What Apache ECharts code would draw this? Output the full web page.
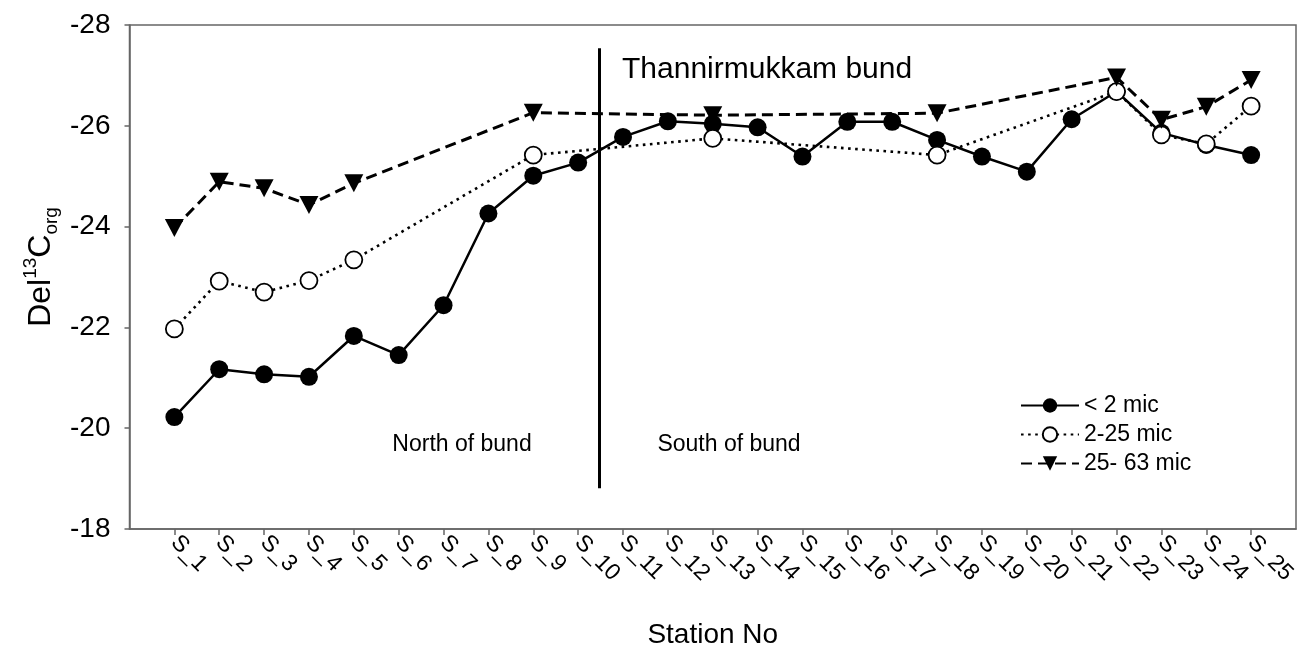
<!DOCTYPE html>
<html>
<head>
<meta charset="utf-8">
<script src="https://cdn.jsdelivr.net/npm/echarts@6/dist/echarts.min.js"></script>
<style>
html,body{margin:0;padding:0;background:#fff;}
#chart{width:1301px;height:647px;}
</style>
</head>
<body>
<div id="chart"></div>
<script>
// ---- data ----
const stations = ['S_1','S_2','S_3','S_4','S_5','S_6','S_7','S_8','S_9','S_10','S_11','S_12','S_13','S_14','S_15','S_16','S_17','S_18','S_19','S_20','S_21','S_22','S_23','S_24','S_25'];
const fine = [-20.22,-21.17,-21.07,-21.02,-21.83,-21.45,-22.44,-24.26,-25.01,-25.27,-25.78,-26.09,-26.04,-25.97,-25.39,-26.08,-26.08,-25.72,-25.39,-25.09,-26.13,-26.68,-25.86,-25.62,-25.42];
const medium = [-21.97,-22.92,-22.70,-22.93,-23.34,null,null,null,-25.42,null,null,null,-25.75,null,null,null,null,-25.42,null,null,null,-26.68,-25.82,-25.64,-26.39];
const coarse = [-23.97,-24.89,-24.76,-24.43,-24.86,null,null,null,-26.26,null,null,null,-26.21,null,null,null,null,-26.25,null,null,null,-26.96,-26.12,-26.38,-26.91];
const seriesNames = ['< 2 mic','2-25 mic','25- 63 mic'];
const yTicks = [-28,-26,-24,-22,-20,-18];
const bundX = 10.46;          // bund position between S_10 and S_11
const bundRange = [-27.54,-18.81];

const FONT = '"Liberation Sans", Arial, sans-serif';
const idx = stations.map((s,i)=>i+1);
const toPairs = arr => arr.map((v,i)=>[i+1, v]);

const chart = echarts.init(document.getElementById('chart'), null, {renderer:'canvas'});
const option = {
  backgroundColor:'#fff',
  animation:false,
  grid:{left:129.5, right:5, top:25, bottom:118, containLabel:false, outerBoundsMode:'none',
        show:true, borderColor:'#666', borderWidth:1.5, backgroundColor:'transparent'},
  xAxis:{
    type:'value', min:0, max:26,
    name:'Station No', nameLocation:'middle', nameGap:92,
    nameTextStyle:{fontFamily:FONT, fontSize:28, color:'#000'},
    axisLine:{show:true, onZero:false, lineStyle:{color:'#666', width:1.5}},
    axisTick:{show:true, customValues:idx, length:6, lineStyle:{color:'#666', width:1.5}},
    axisLabel:{show:true, customValues:idx, formatter:v=>stations[v-1] || '', rotate:-45, margin:10,
      fontFamily:FONT, fontSize:23, color:'#000'},
    splitLine:{show:false}
  },
  yAxis:{
    type:'value', min:yTicks[0], max:yTicks[yTicks.length-1], interval:2, inverse:true,
    axisLine:{show:true, lineStyle:{color:'#666', width:1.5}},
    axisTick:{show:true, length:5, lineStyle:{color:'#666', width:1.5}},
    axisLabel:{fontFamily:FONT, fontSize:28, color:'#000', margin:19, formatter:v=>String(v)},
    splitLine:{show:false}
  },
  legend:{
    orient:'vertical', left:1015, top:389, itemWidth:58, itemHeight:18, itemGap:6,
    textStyle:{fontFamily:FONT, fontSize:23, color:'#000'},
    data:seriesNames
  },
  series:[
    {
      name:seriesNames[0], type:'line', data:toPairs(fine),
      symbol:'circle', symbolSize:18,
      itemStyle:{color:'#000', borderColor:'#000', borderWidth:0},
      lineStyle:{color:'#000', width:2.5, type:'solid'},
      z:2,
      markLine:{
        silent:true, symbol:['none','none'], label:{show:false},
        lineStyle:{color:'#000', width:3, type:'solid'},
        data:[[{coord:[bundX, bundRange[0]]},{coord:[bundX, bundRange[1]]}]]
      }
    },
    {
      name:seriesNames[1], type:'line', data:toPairs(medium), connectNulls:true,
      symbol:'circle', symbolSize:17,
      itemStyle:{color:'#fff', borderColor:'#000', borderWidth:1.8},
      lineStyle:{color:'#000', width:2.6, type:[2.6,4.5]},
      z:3
    },
    {
      name:seriesNames[2], type:'line', data:toPairs(coarse), connectNulls:true,
      symbol:'triangle', symbolRotate:180, symbolSize:[19,18],
      itemStyle:{color:'#000', borderColor:'#000', borderWidth:0},
      lineStyle:{color:'#000', width:3, type:[11,6]},
      z:4
    }
  ],
  graphic:[
    {type:'text', x:41, y:267, rotation:Math.PI/2,
      style:{text:'{a|Del}{sup|13}{a|C}{sub|org}', textAlign:'center', textVerticalAlign:'middle',
        rich:{
          a:{fontFamily:FONT, fontSize:32, fill:'#000', lineHeight:40},
          sup:{fontFamily:FONT, fontSize:19, fill:'#000', lineHeight:40, verticalAlign:'top'},
          sub:{fontFamily:FONT, fontSize:19, fill:'#000', lineHeight:40, verticalAlign:'bottom'}
        }}},
    {type:'text', x:622, y:70, style:{text:'Thannirmukkam bund', font:'30px '+FONT, fill:'#000', textAlign:'left', textVerticalAlign:'middle'}},
    {type:'text', x:462, y:445, style:{text:'North of bund', font:'23px '+FONT, fill:'#000', textAlign:'center', textVerticalAlign:'middle'}},
    {type:'text', x:729, y:445, style:{text:'South of bund', font:'23px '+FONT, fill:'#000', textAlign:'center', textVerticalAlign:'middle'}}
  ]
};
chart.setOption(option);
</script>
</body>
</html>
